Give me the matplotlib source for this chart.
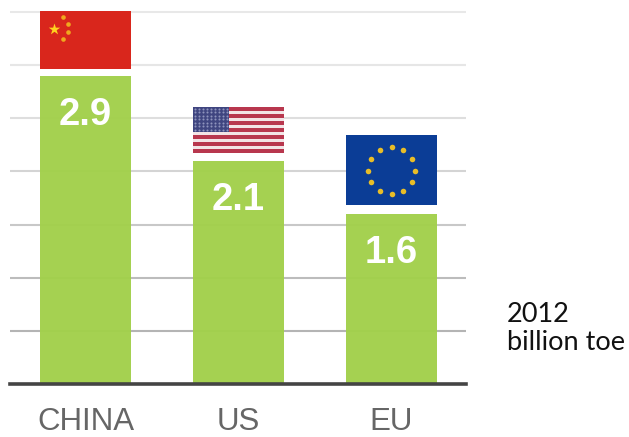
import numpy as np
import matplotlib
matplotlib.use("Agg")
import matplotlib.pyplot as plt
from matplotlib.patches import Rectangle

categories = ["CHINA", "US", "EU"]
values = [2.9, 2.1, 1.6]
value_labels = ["2.9", "2.1", "1.6"]
gridlines = [0.5, 1.0, 1.5, 2.0, 2.5, 3.0, 3.5]
grid_colors = ["#b4b4b4", "#bcbcbc", "#c8c8c8", "#d4d4d4", "#dedede", "#e6e6e6", "#e8e8e8"]
flag_bottoms = [2.963, 2.173, 1.684]
flag_tops = [3.509, 2.606, 2.342]
side_note = ["2012", "billion toe"]

W, H = 629, 437
fig = plt.figure(figsize=(W / 100, H / 100), dpi=100)
left, right, base = 10, 466, 384
unit_x, unit_y = 153.0, 106.3
ax = fig.add_axes([left / W, (H - base) / H, (right - left) / W, 3.6 * unit_y / H])
ax.set_xlim((left - 85.5) / unit_x, (right - 85.5) / unit_x)
ax.set_ylim(0, 3.6)

for g, c in zip(gridlines, grid_colors):
    ax.axhline(g, color=c, lw=1.5, zorder=1)
ax.bar(range(3), values, width=0.6, color="#a2d04b", alpha=0.97, zorder=2)
ax.axhline(0, color="#444444", lw=2.6, zorder=3, clip_on=False)

for i, (v, t) in enumerate(zip(values, value_labels)):
    ax.text(i, v - 0.365, t, color="white", ha="center", va="center", fontsize=27.5,
            fontweight="bold", family="Liberation Sans", zorder=4)

ax.set_xticks(range(3))
ax.set_xticklabels(categories, fontsize=22.5, color="#666666", family="Liberation Sans")
ax.tick_params(axis="x", length=0, pad=16.5)
ax.set_yticks([])
for s in ax.spines.values():
    s.set_visible(False)


def flag_axes(i):
    b, t = flag_bottoms[i], flag_tops[i]
    a = ax.inset_axes([i - 0.3, b, 0.6, t - b], transform=ax.transData, zorder=5)
    a.set_xlim(0, 1)
    a.set_ylim(0, 1)
    a.axis("off")
    return a


# China
a = flag_axes(0)
a.add_patch(Rectangle((0, 0), 1, 1, color="#d9261c"))
a.scatter([0.155], [0.69], marker="*", s=75, color="#ffd21f", zorder=3, linewidths=0)
a.scatter([0.26, 0.31, 0.31, 0.26], [0.9, 0.78, 0.63, 0.52], marker="o", s=11,
          color="#f0a81e", zorder=3, linewidths=0)

# US
a = flag_axes(1)
for k in range(13):
    a.add_patch(Rectangle((0, k / 13), 1, 1 / 13, color="#b8374e" if k % 2 == 0 else "#f2e4e6", lw=0))
a.add_patch(Rectangle((0, 6 / 13), 0.4, 7 / 13, color="#3f4580", lw=0, zorder=3))
sx, sy = np.meshgrid(np.linspace(0.03, 0.37, 9), np.linspace(0.51, 0.96, 7))
a.scatter(sx.ravel(), sy.ravel(), s=2.2, color="#8e93bd", linewidths=0, zorder=4)

# EU
a = flag_axes(2)
a.add_patch(Rectangle((0, 0), 1, 1, color="#0b3d96", lw=0))
ang = np.arange(12) * np.pi / 6
a.scatter(0.5 + 0.26 * np.cos(ang), 0.49 + 0.335 * np.sin(ang), marker="o", s=16,
          color="#e8bd28", linewidths=0, zorder=3)

fig.text(507 / W, 1 - 314 / H, side_note[0], fontsize=19.5, family="Lato", color="#111111", va="center")
fig.text(507 / W, 1 - 343 / H, side_note[1], fontsize=19.5, family="Lato", color="#111111", va="center")

fig.savefig("out.png", dpi=100)
